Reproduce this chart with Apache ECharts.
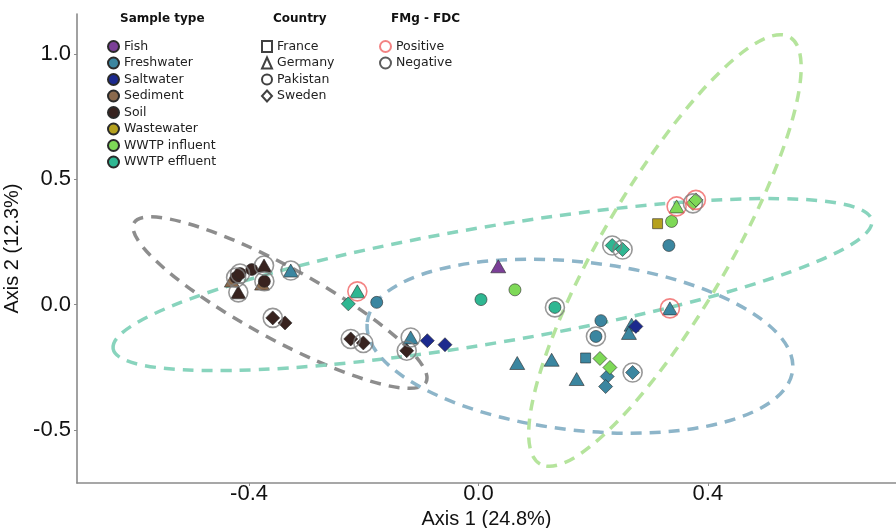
<!DOCTYPE html>
<html>
<head>
<meta charset="utf-8">
<script src="https://cdn.jsdelivr.net/npm/echarts@6/dist/echarts.min.js"></script>
<style>
	html, body { margin: 0; padding: 0; background: #fff; }
	#chart { width: 896px; height: 528px; }
</style>
</head>
<body>
<div id="chart"></div>
<script>
var sampleTypes = ['Fish', 'Freshwater', 'Saltwater', 'Sediment', 'Soil', 'Wastewater', 'WWTP influent', 'WWTP effluent'];
var countries = ['France', 'Germany', 'Pakistan', 'Sweden'];
var fmgLevels = ['Positive', 'Negative'];

// PCoA scores
var axis1 = [-0.430, -0.4226, -0.4157, -0.3953, -0.3739, -0.3773, -0.3733, -0.4187, -0.3273, -0.3587,
	-0.3373, -0.2112, -0.2269, -0.1774, -0.2227, -0.2008, -0.1182, -0.1251, -0.0892, -0.0584,
	0.0345, 0.0044, 0.0636, 0.1333, 0.2332, 0.2513, 0.3123, 0.3367, 0.3455, 0.3739,
	0.3791, 0.332, 0.3338, 0.2135, 0.2048, 0.267, 0.2623, 0.2745, 0.0676, 0.1276,
	0.1712, 0.1868, 0.2118, 0.2292, 0.2245, 0.2217, 0.2688];
var axis2 = [0.096, 0.108, 0.124, 0.14, 0.156, 0.084, 0.093, 0.049, 0.136, -0.053,
	-0.073, 0.053, 0.003, 0.009, -0.137, -0.153, -0.131, -0.184, -0.144, -0.16,
	0.153, 0.02, 0.059, -0.011, 0.236, 0.22, 0.323, 0.332, 0.392, 0.404,
	0.418, 0.236, -0.015, -0.064, -0.127, -0.08, -0.113, -0.087, -0.233, -0.22,
	-0.297, -0.213, -0.215, -0.251, -0.287, -0.327, -0.271];
var sampleOf = ['Sediment', 'Soil', 'Soil', 'Soil', 'Soil', 'Sediment', 'Soil', 'Soil', 'Freshwater', 'Soil',
	'Soil', 'WWTP effluent', 'WWTP effluent', 'Freshwater', 'Soil', 'Soil', 'Freshwater', 'Soil', 'Saltwater', 'Saltwater',
	'Fish', 'WWTP effluent', 'WWTP influent', 'WWTP effluent', 'WWTP effluent', 'WWTP effluent', 'Wastewater', 'WWTP influent', 'WWTP influent', 'WWTP influent',
	'WWTP influent', 'Freshwater', 'Freshwater', 'Freshwater', 'Freshwater', 'Freshwater', 'Freshwater', 'Saltwater', 'Freshwater', 'Freshwater',
	'Freshwater', 'Freshwater', 'WWTP influent', 'WWTP influent', 'Freshwater', 'Freshwater', 'Freshwater'];
var countryOf = ['Germany', 'Pakistan', 'Pakistan', 'Pakistan', 'Germany', 'Germany', 'Pakistan', 'Germany', 'Germany', 'Sweden',
	'Sweden', 'Germany', 'Sweden', 'Pakistan', 'Sweden', 'Sweden', 'Germany', 'Sweden', 'Sweden', 'Sweden',
	'Germany', 'Pakistan', 'Pakistan', 'Pakistan', 'Sweden', 'Sweden', 'France', 'Pakistan', 'Germany', 'Sweden',
	'Sweden', 'Pakistan', 'Germany', 'Pakistan', 'Pakistan', 'Germany', 'Germany', 'Sweden', 'Germany', 'Germany',
	'Germany', 'France', 'Sweden', 'Sweden', 'Sweden', 'Sweden', 'Sweden'];
var fmgOf = ['', 'Negative', 'Negative', '', 'Negative', '', 'Negative', 'Negative', 'Negative', 'Negative',
	'', 'Positive', '', '', 'Negative', 'Negative', 'Negative', 'Negative', '', '',
	'', '', '', 'Negative', 'Negative', 'Negative', '', '', 'Positive', 'Negative',
	'Positive', '', 'Positive', '', 'Negative', '', '', '', '', '',
	'', '', '', '', '', '', 'Negative'];

// 95% ellipses: centre, end of major axis, end of minor axis
var ellipseGroups = ['Soil', 'WWTP effluent', 'Freshwater', 'WWTP influent'];
var ellipseCentre = [[-0.346, 0.008], [0.0244, 0.08], [0.1769, -0.166], [0.3251, 0.216]];
var ellipseMajorEnd = [[-0.0915, -0.31], [0.6858, 0.336], [0.5478, -0.262], [0.5429, 1.068]];
var ellipseMinorEnd = [[-0.3758, -0.1188], [0.0411, -0.1488], [0.1616, -0.500], [0.4197, 0.0884]];

var xTicks = [-0.4, 0.0, 0.4];
var yTicks = [-0.5, 0.0, 0.5, 1.0];

var typeColor = {
	'Fish': '#7b3f97', 'Freshwater': '#3b86a0', 'Saltwater': '#1c2a8e', 'Sediment': '#8b6a4d',
	'Soil': '#38231f', 'Wastewater': '#b5a11f', 'WWTP influent': '#7ed957', 'WWTP effluent': '#2fb792'
};
var ellipseColor = {
	'Soil': '#8d8d8d', 'WWTP effluent': '#88d4bd', 'Freshwater': '#8db5c9', 'WWTP influent': '#b5e49c'
};
var countrySymbol = { 'France': 'rect', 'Germany': 'triangle', 'Pakistan': 'circle', 'Sweden': 'diamond' };
var countrySize = { 'France': [10, 10], 'Germany': [15, 13], 'Pakistan': [12, 12], 'Sweden': [14, 14] };
var ringColor = { 'Positive': '#f06464', 'Negative': '#7d7d7d' };

var chart = echarts.init(document.getElementById('chart'));

var legendText = { fontFamily: 'DejaVu Sans', fontSize: 12.5, color: '#222' };
var titleText = { fontFamily: 'DejaVu Sans', fontSize: 12, fontWeight: 'bold', color: '#111' };
var series = [];

// ellipses
series.push({
	type: 'custom',
	name: 'ellipses',
	z: 1,
	clip: true,
	silent: true,
	encode: { x: [0, 2, 4], y: [1, 3, 5] },
	data: ellipseGroups.map(function (g, i) {
		return [ellipseCentre[i][0], ellipseCentre[i][1], ellipseMajorEnd[i][0], ellipseMajorEnd[i][1],
			ellipseMinorEnd[i][0], ellipseMinorEnd[i][1]];
	}),
	renderItem: function (params, api) {
		var c = api.coord([api.value(0), api.value(1)]);
		var a = api.coord([api.value(2), api.value(3)]);
		var b = api.coord([api.value(4), api.value(5)]);
		var ang = Math.atan2(a[1] - c[1], a[0] - c[0]);
		return {
			type: 'ellipse',
			x: c[0], y: c[1],
			rotation: -ang,
			shape: { cx: 0, cy: 0,
				rx: Math.hypot(a[0] - c[0], a[1] - c[1]),
				ry: Math.hypot(b[0] - c[0], b[1] - c[1]) },
			style: { fill: 'none', stroke: ellipseColor[ellipseGroups[params.dataIndex]], lineWidth: 3.5, lineDash: [11, 8] }
		};
	}
});

// points, one series per sample type
sampleTypes.forEach(function (t) {
	var data = [];
	for (var i = 0; i < axis1.length; i++) {
		if (sampleOf[i] !== t) continue;
		data.push({
			value: [axis1[i], axis2[i]],
			symbol: countrySymbol[countryOf[i]],
			symbolSize: countrySize[countryOf[i]]
		});
	}
	series.push({
		type: 'scatter', name: t, z: 3, data: data,
		itemStyle: { color: typeColor[t], borderColor: '#2a2a2a', borderWidth: 0.6, opacity: 1 }
	});
});

// country legend entries
countries.forEach(function (c) {
	series.push({
		type: 'scatter', name: c, data: [], symbol: countrySymbol[c],
		itemStyle: { color: '#fff', borderColor: '#111', borderWidth: 1.1 }
	});
});

// FMg - FDC rings
fmgLevels.forEach(function (f) {
	var data = [];
	for (var i = 0; i < axis1.length; i++) {
		if (fmgOf[i] === f) data.push([axis1[i], axis2[i]]);
	}
	series.push({
		type: 'scatter', name: f, z: 4, data: data, symbol: 'circle', symbolSize: 19,
		itemStyle: { color: 'rgba(255,255,255,0)', borderColor: ringColor[f], borderWidth: 1.6 }
	});
});

chart.setOption({
	animation: false,
	backgroundColor: '#fff',
	title: [
		{ text: 'Sample type', left: 120, top: 13, padding: 0, textStyle: titleText },
		{ text: 'Country', left: 273, top: 13, padding: 0, textStyle: titleText },
		{ text: 'FMg - FDC', left: 391, top: 13, padding: 0, textStyle: titleText }
	],
	legend: [
		{
			orient: 'vertical', left: 107, top: 40, padding: 0, itemWidth: 11, itemHeight: 11, itemGap: 3.5,
			selectedMode: false, textStyle: legendText,
			data: sampleTypes.map(function (t) { return { name: t, icon: 'circle' }; })
		},
		{
			orient: 'vertical', left: 261, top: 40, padding: 0, itemWidth: 10, itemHeight: 11, itemGap: 3.5,
			selectedMode: false, textStyle: legendText,
			data: countries.map(function (c) { return { name: c, icon: countrySymbol[c] }; })
		},
		{
			orient: 'vertical', left: 379, top: 40, padding: 0, itemWidth: 11, itemHeight: 11, itemGap: 3.5,
			selectedMode: false, textStyle: legendText,
			data: [
				{ name: 'Positive', icon: 'circle' },
				{ name: 'Negative', icon: 'circle', itemStyle: { borderColor: '#333' } }
			]
		}
	],
	grid: { left: 77, right: 0, top: 14, bottom: 45, outerBoundsMode: 'none', containLabel: false },
	xAxis: {
		type: 'value', min: -0.70, max: 0.728,
		name: 'Axis 1 (24.8%)', nameLocation: 'middle', nameGap: 21,
		nameTextStyle: { fontFamily: 'Liberation Sans', fontSize: 20, color: '#111' },
		axisLine: { show: true, onZero: false, lineStyle: { color: '#8a8a8a', width: 1.6 } },
		axisTick: { show: true, customValues: xTicks, length: 3, lineStyle: { color: '#8a8a8a' } },
		axisLabel: { customValues: xTicks, margin: 0, fontFamily: 'Liberation Sans', fontSize: 22, color: '#111',
			formatter: function (v) { return v.toFixed(1); } },
		splitLine: { show: false }
	},
	yAxis: {
		type: 'value', min: -0.712, max: 1.16,
		name: 'Axis 2 (12.3%)', nameLocation: 'middle', nameGap: 46, nameRotate: 90,
		nameTextStyle: { fontFamily: 'Liberation Sans', fontSize: 20, color: '#111' },
		axisLine: { show: true, onZero: false, lineStyle: { color: '#8a8a8a', width: 1.6 } },
		axisTick: { show: true, customValues: yTicks, length: 3, lineStyle: { color: '#8a8a8a' } },
		axisLabel: { customValues: yTicks, margin: 6, fontFamily: 'Liberation Sans', fontSize: 22, color: '#111',
			formatter: function (v) { return v.toFixed(1); } },
		splitLine: { show: false }
	},
	series: series
});
</script>
</body>
</html>
